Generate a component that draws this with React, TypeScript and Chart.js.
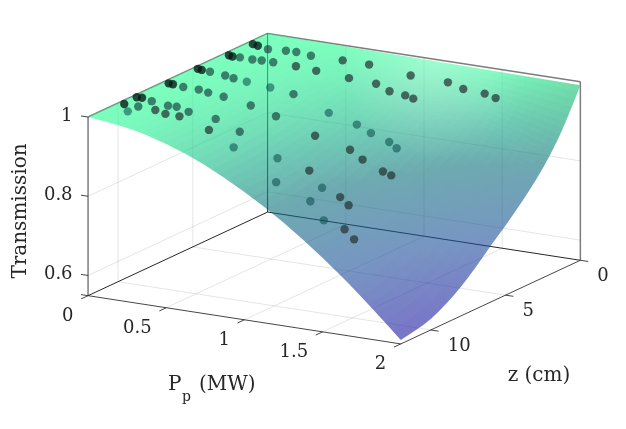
import React, { useEffect, useRef } from "react";
import { Chart, registerables } from "chart.js";

Chart.register(...registerables);

// ---------- data ----------
const pAxis = [0, 0.25, 0.5, 0.75, 1, 1.25, 1.5, 1.75, 2];
const zAxis = [0, 1, 2, 3, 4, 5, 6, 7, 8, 9, 10, 11, 12];
// transmission surface: one row per pAxis value, one column per zAxis value
const surfaceT = [
  [1, 1, 1, 1, 1, 1, 1, 1, 1, 1, 1, 1, 1],
  [1.0, 0.998, 0.996, 0.995, 0.994, 0.993, 0.993, 0.992, 0.991, 0.99, 0.99, 0.99, 0.99],
  [0.999, 0.993, 0.988, 0.984, 0.98, 0.977, 0.975, 0.971, 0.969, 0.967, 0.965, 0.964, 0.964],
  [0.998, 0.985, 0.974, 0.966, 0.959, 0.953, 0.947, 0.941, 0.935, 0.931, 0.928, 0.926, 0.925],
  [0.997, 0.975, 0.957, 0.943, 0.932, 0.921, 0.911, 0.901, 0.891, 0.884, 0.878, 0.875, 0.873],
  [0.996, 0.962, 0.936, 0.915, 0.898, 0.882, 0.868, 0.852, 0.837, 0.827, 0.819, 0.814, 0.811],
  [0.995, 0.947, 0.911, 0.882, 0.858, 0.836, 0.816, 0.794, 0.774, 0.759, 0.747, 0.741, 0.737],
  [0.993, 0.931, 0.882, 0.844, 0.813, 0.783, 0.757, 0.728, 0.702, 0.682, 0.667, 0.658, 0.653],
  [0.991, 0.912, 0.85, 0.802, 0.762, 0.724, 0.691, 0.654, 0.621, 0.596, 0.575, 0.566, 0.559],
];
const dotP = [0.04,0.12,0.03,0.06,0.12,0.13,0.21,0.29,0.23,0.27,0.35,0.36,0.04,0.07,0.14,0.03,0.06,0.11,0.22,0.28,0.36,0.51,0.55,0.66,0.73,0.54,0.04,0.07,0.11,0.21,0.27,0.35,0.04,0.08,0.16,0.18,0.23,0.48,0.25,0.31,0.41,0.3,0.43,0.55,0.61,0.76,0.75,0.91,1.01,1.04,1.1,1.16,1.24,1.35,1.48,1.55,0.86,1.03,1.12,1.23,1.29,0.94,1.13,0.69,0.62,0.93,1.04,1.21,1.08,1.34,1.38,1.2,1.31,1.36,1.23,1.34,1.43,1.51];
const dotZ = [10,10.6,9.06,9.02,9.9,9.1,9.7,9.86,9.06,8.9,9.55,9.04,7.03,7.06,7.1,4.98,5.03,5,6.9,6.9,6.7,8.8,9.67,8.76,9.9,6.77,3,3.08,3,5.03,5.1,5.05,1.4,1.49,1.65,2.9,2.8,4.84,1.39,1.32,1.39,2.76,2.6,2.5,1.36,1.16,2.4,2.26,2.41,1.31,2.3,2.39,0.91,1.03,0.96,0.96,4.9,4.8,4.8,4.73,4.86,6.65,6.3,6.65,4.75,9.06,10.3,6.3,8.5,6.3,6.16,8.9,8.84,8.8,10,10.25,9.8,10];
const dotT = [1,0.997,1,1,0.997,0.997,0.99,0.988,0.991,0.988,0.98,0.983,1,1,0.998,1,1,0.998,0.993,0.989,0.98,0.97,0.96,0.946,0.931,0.97,1,1,0.999,0.995,0.993,0.988,1,1,0.999,0.996,0.995,0.978,0.996,0.995,0.993,0.994,0.989,0.983,0.993,0.988,0.975,0.968,0.958,0.98,0.951,0.948,0.968,0.96,0.955,0.948,0.938,0.917,0.901,0.884,0.874,0.916,0.886,0.95,0.968,0.901,0.869,0.866,0.869,0.844,0.834,0.84,0.822,0.804,0.827,0.79,0.765,0.748];
// how much of each dot shows through the surface: 0 deep, 1 half, 2 dark, 3 darkest
const dotDepth = [3,0,3,3,1,1,2,2,1,1,2,1,3,3,1,3,3,1,1,1,1,1,2,1,0,1,3,3,1,1,1,0,3,3,1,1,1,0,1,1,1,1,2,2,2,2,2,2,2,2,2,2,2,2,2,2,0,0,0,0,0,2,2,1,1,0,0,2,2,2,2,0,2,2,0,0,2,2];

const pTicks = [0, 0.5, 1, 1.5, 2];
const pTickLabels = ["0", "0.5", "1", "1.5", "2"];
const zTicks = [0, 5, 10];
const zTickLabels = ["0", "5", "10"];
const tTicks = [0.6, 0.8, 1];
const tTickLabels = ["0.6", "0.8", "1"];
const pTitle = "P";
const pTitleSub = "p";
const pTitleUnit = "(MW)";
const zTitle = "z (cm)";
const tTitle = "Transmission";

// ---------- view of the 3-D box ----------
const P_MAX = 2;
const Z_MAX = 12;
const T_MIN = 0.549;
const T_MAX = 1;
function project(P: number, z: number, T: number) {
  const w = 1 - z / Z_MAX;
  return {
    x: 85 + 158.5 * P + 182 * w,
    y: 297.3 + 24.6 * P - 85.3 * w - 404 * (T - T_MIN),
  };
}

// colour map: transmission -> opaque colour
const mapT = [0.55, 0.7, 0.83, 0.9, 1];
const mapRGB = [
  [33, 22, 163],
  [30, 80, 155],
  [14, 113, 124],
  [16, 168, 133],
  [38, 255, 147],
];
function colorOf(T: number) {
  let i = 0;
  while (i < mapT.length - 2 && T > mapT[i + 1]) i++;
  const f = Math.max(0, Math.min(1, (T - mapT[i]) / (mapT[i + 1] - mapT[i])));
  const c = mapRGB[i].map((v, k) => Math.round(v + (mapRGB[i + 1][k] - v) * f));
  return `rgb(${c[0]},${c[1]},${c[2]})`;
}

const SURFACE_ALPHA = 0.6;
const SHADE_STEPS = 5;

const surfacePlugin = {
  id: "surfaceShading",
  afterDatasetDraw(chart: any, args: any) {
    const ds = chart.data.datasets[args.index];
    if (ds.label !== "surface") return;
    const sx = chart.scales.x;
    const sy = chart.scales.y;
    const nP = pAxis.length;
    const nZ = zAxis.length;
    const vert = (i: number, j: number) => {
      const d = ds.data[i * nZ + j];
      return { x: sx.getPixelForValue(d.x), y: sy.getPixelForValue(d.y), T: d.T };
    };
    const off = document.createElement("canvas");
    off.width = chart.width;
    off.height = chart.height;
    const o = off.getContext("2d")!;
    o.lineWidth = 3;
    o.lineJoin = "round";
    const mix = (a: any, b: any, c: any, d: any, s: number, t: number) => {
      const f = (k: string) =>
        a[k] * (1 - s) * (1 - t) + b[k] * s * (1 - t) + c[k] * s * t + d[k] * (1 - s) * t;
      return { x: f("x"), y: f("y"), T: f("T") };
    };
    for (let i = 0; i < nP - 1; i++) {
      for (let j = 0; j < nZ - 1; j++) {
        const a = vert(i, j);
        const b = vert(i + 1, j);
        const c = vert(i + 1, j + 1);
        const d = vert(i, j + 1);
        for (let m = 0; m < SHADE_STEPS; m++) {
          for (let n = 0; n < SHADE_STEPS; n++) {
            const s0 = m / SHADE_STEPS;
            const s1 = (m + 1) / SHADE_STEPS;
            const t0 = n / SHADE_STEPS;
            const t1 = (n + 1) / SHADE_STEPS;
            const p0 = mix(a, b, c, d, s0, t0);
            const p1 = mix(a, b, c, d, s1, t0);
            const p2 = mix(a, b, c, d, s1, t1);
            const p3 = mix(a, b, c, d, s0, t1);
            const col = colorOf((p0.T + p1.T + p2.T + p3.T) / 4);
            o.fillStyle = col;
            o.strokeStyle = col;
            o.beginPath();
            o.moveTo(p0.x, p0.y);
            o.lineTo(p1.x, p1.y);
            o.lineTo(p2.x, p2.y);
            o.lineTo(p3.x, p3.y);
            o.closePath();
            o.fill();
            o.stroke();
          }
        }
      }
    }
    const ctx = chart.ctx as CanvasRenderingContext2D;
    ctx.save();
    ctx.beginPath();
    // outline: the two curved edges are rounded through their vertex midpoints
    const top0 = vert(0, 0);
    ctx.moveTo(top0.x, top0.y);
    const right0 = vert(nP - 1, 0);
    ctx.lineTo(right0.x, right0.y);
    const curve = (pts: any[]) => {
      for (let k = 1; k < pts.length - 1; k++) {
        const mx = (pts[k].x + pts[k + 1].x) / 2;
        const my = (pts[k].y + pts[k + 1].y) / 2;
        const last = k === pts.length - 2;
        ctx.quadraticCurveTo(pts[k].x, pts[k].y, last ? pts[k + 1].x : mx, last ? pts[k + 1].y : my);
      }
    };
    const rightEdge: any[] = [];
    for (let j = 0; j < nZ; j++) rightEdge.push(vert(nP - 1, j));
    curve(rightEdge);
    const frontEdge: any[] = [];
    for (let i = nP - 1; i >= 0; i--) frontEdge.push(vert(i, nZ - 1));
    curve(frontEdge);
    ctx.closePath();
    ctx.clip();
    ctx.globalAlpha = SURFACE_ALPHA;
    ctx.drawImage(off, 0, 0, chart.width, chart.height);
    ctx.globalAlpha = 1;
    // specular light on the far side of the sheet
    const h = project(1.1, 0.4, 0.995);
    const hx = sx.getPixelForValue(h.x);
    const hy = sy.getPixelForValue(h.y);
    const g = ctx.createRadialGradient(hx, hy, 0, hx, hy, 95);
    g.addColorStop(0, "rgba(255,255,255,0.27)");
    g.addColorStop(1, "rgba(255,255,255,0)");
    ctx.fillStyle = g;
    ctx.fillRect(0, 0, chart.width, chart.height);
    // and the sheet falls off the light towards the far corner
    const e = project(P_MAX, 0, 0.99);
    const ex = sx.getPixelForValue(e.x);
    const ey = sy.getPixelForValue(e.y);
    const g2 = ctx.createRadialGradient(ex, ey, 0, ex, ey, 90);
    g2.addColorStop(0, "rgba(70,110,90,0.2)");
    g2.addColorStop(1, "rgba(70,110,90,0)");
    ctx.fillStyle = g2;
    ctx.fillRect(0, 0, chart.width, chart.height);
    ctx.restore();
  },
};

const textPlugin = {
  id: "axisText",
  afterDraw(chart: any) {
    const ctx = chart.ctx as CanvasRenderingContext2D;
    const sx = chart.scales.x;
    const sy = chart.scales.y;
    const at = (p: { x: number; y: number }) => ({
      x: sx.getPixelForValue(p.x),
      y: sy.getPixelForValue(p.y),
    });
    ctx.save();
    ctx.fillStyle = "#262626";
    ctx.textBaseline = "middle";
    const font = "DejaVu Serif";
    ctx.font = `18px "${font}"`;
    ctx.textAlign = "right";
    tTicks.forEach((t, i) => {
      const p = at(project(0, Z_MAX, t));
      ctx.fillText(tTickLabels[i], p.x - 15.5, p.y - 1);
    });
    pTicks.forEach((v, i) => {
      const p = at(project(v, Z_MAX, T_MIN));
      ctx.fillText(pTickLabels[i], p.x - 14.5, p.y + 20.5);
    });
    ctx.textAlign = "left";
    zTicks.forEach((v, i) => {
      const p = at(project(P_MAX, v, T_MIN));
      ctx.fillText(zTickLabels[i], p.x + 17, p.y + 16);
    });
    ctx.font = `20px "${font}"`;
    ctx.fillText(pTitle, 168, 385);
    ctx.fillText(pTitleUnit, 199, 385);
    ctx.font = `14px "${font}"`;
    ctx.fillText(pTitleSub, 182, 397);
    ctx.font = `20px "${font}"`;
    ctx.textAlign = "center";
    ctx.fillText(zTitle, 539, 376);
    ctx.translate(21, 211);
    ctx.rotate(-Math.PI / 2);
    ctx.fillText(tTitle, 0, 0);
    ctx.restore();
  },
};

function segment(a: any, b: any, color: string, width: number, order: number) {
  return {
    label: "line",
    data: [a, b],
    showLine: true,
    borderColor: color,
    borderWidth: width,
    pointRadius: 0,
    fill: false,
    tension: 0,
    order,
  };
}

function buildDatasets() {
  const sets: any[] = [];
  const GRID = "rgba(38,38,38,0.12)";
  const BACK = "rgb(38,38,38)";
  const EDGE = "rgba(38,38,38,0.6)";
  const AXIS = "rgba(38,38,38,0.85)";
  // wall grids and floor grid
  zTicks.filter((z) => z > 0).forEach((z) => {
    sets.push(segment(project(0, z, T_MIN), project(0, z, T_MAX), GRID, 1, 10));
    sets.push(segment(project(0, z, T_MIN), project(P_MAX, z, T_MIN), GRID, 1, 10));
  });
  pTicks.filter((p) => p > 0 && p < P_MAX).forEach((p) => {
    sets.push(segment(project(p, 0, T_MIN), project(p, 0, T_MAX), GRID, 1, 10));
    sets.push(segment(project(p, 0, T_MIN), project(p, Z_MAX, T_MIN), GRID, 1, 10));
  });
  tTicks.filter((t) => t < T_MAX).forEach((t) => {
    sets.push(segment(project(0, Z_MAX, t), project(0, 0, t), GRID, 1, 10));
    sets.push(segment(project(0, 0, t), project(P_MAX, 0, t), GRID, 1, 10));
  });
  // back edges of the box, seen through the sheet
  sets.push(segment(project(0, 0, T_MIN), project(0, 0, T_MAX), BACK, 1, 9));
  sets.push(segment(project(0, 0, T_MIN), project(0, Z_MAX, T_MIN), BACK, 1, 9));
  sets.push(segment(project(0, 0, T_MIN), project(P_MAX, 0, T_MIN), BACK, 1, 9));
  sets.push(segment(project(0, Z_MAX, T_MAX), project(0, 0, T_MAX), EDGE, 1.5, 9));
  sets.push(segment(project(0, 0, T_MAX), project(P_MAX, 0, T_MAX), EDGE, 1.5, 9));
  sets.push(segment(project(P_MAX, 0, T_MAX), project(P_MAX, 0, T_MIN), EDGE, 1.5, 9));
  sets.push(segment(project(0, Z_MAX, T_MIN), project(0, Z_MAX, T_MAX), EDGE, 1.5, 9));
  // the sheet itself: drawn by the surfaceShading plugin from these vertices
  const mesh: any[] = [];
  pAxis.forEach((p, i) =>
    zAxis.forEach((z, j) => {
      const T = surfaceT[i][j];
      mesh.push({ ...project(p, z, T), T });
    })
  );
  sets.push({ label: "surface", data: mesh, showLine: false, pointRadius: 0, order: 5 });
  // front floor edges and tick marks
  sets.push(segment(project(0, Z_MAX, T_MIN), project(P_MAX, Z_MAX, T_MIN), AXIS, 1, 3));
  sets.push(segment(project(P_MAX, Z_MAX, T_MIN), project(P_MAX, 0, T_MIN), AXIS, 1, 3));
  const zOut = Z_MAX * (1 + 7 / 182);
  pTicks.forEach((p) =>
    sets.push(segment(project(p, Z_MAX, T_MIN), project(p, zOut, T_MIN), AXIS, 1, 3))
  );
  zTicks.forEach((z) =>
    sets.push(segment(project(P_MAX, z, T_MIN), project(P_MAX * 1.025, z, T_MIN), AXIS, 1, 3))
  );
  [...tTicks, T_MIN].forEach((t) =>
    sets.push(segment(project(0, Z_MAX, t), project(-0.045, Z_MAX, t), AXIS, 1, 3))
  );
  // measured points
  const dotFill = [
    "rgba(10,75,75,0.55)",
    "rgba(25,70,65,0.68)",
    "rgba(38,52,52,0.72)",
    "rgba(5,25,20,0.78)",
  ];
  sets.push({
    label: "measured",
    data: dotP.map((p, i) => project(p, dotZ[i], dotT[i])),
    showLine: false,
    pointRadius: 4.2,
    pointBorderWidth: 0,
    pointBackgroundColor: dotDepth.map((d) => dotFill[d]),
    order: 1,
  });
  return sets;
}

export default function App() {
  const ref = useRef<HTMLCanvasElement>(null);
  useEffect(() => {
    const chart = new Chart(ref.current!, {
      type: "scatter",
      data: { datasets: buildDatasets() },
      options: {
        animation: false,
        responsive: false,
        devicePixelRatio: 1,
        events: [],
        layout: { padding: 0 },
        scales: {
          x: { type: "linear", min: 0, max: 626, display: false },
          y: { type: "linear", min: 0, max: 429, reverse: true, display: false },
        },
        plugins: { legend: { display: false }, tooltip: { enabled: false }, title: { display: false } },
      },
      plugins: [surfacePlugin, textPlugin],
    } as any);
    return () => chart.destroy();
  }, []);
  return (
    <canvas
      ref={ref}
      width={626}
      height={429}
      style={{ position: "absolute", left: 0, top: 0, display: "block" }}
    />
  );
}
